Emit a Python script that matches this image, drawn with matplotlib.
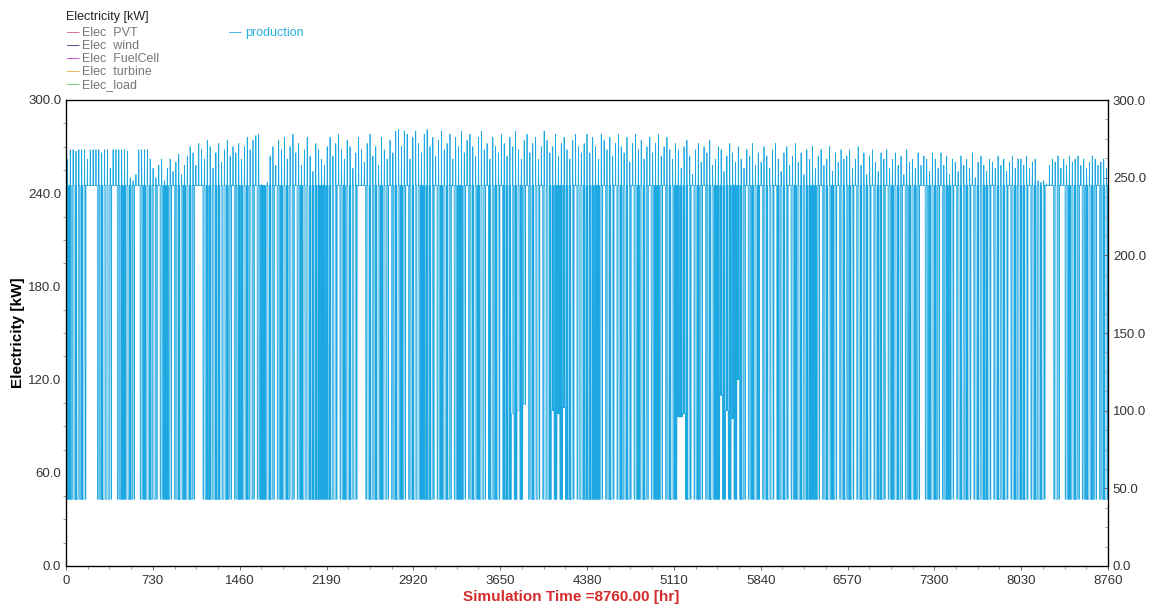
import numpy as np
import matplotlib.pyplot as plt
from matplotlib.ticker import MultipleLocator, FormatStrFormatter

plt.rcParams['font.family'] = ['Liberation Sans', 'DejaVu Sans']

jan = [262, 268, 268, 267, 268, 268, 268, 262, 268, 268, 268, 268, 266, 268, 268, 256,
       268, 268, 268, 268, 268, 267, 250, 248, 252, 268, 268, 268, 268, 262, 256]
feb = [250, 258, 262, 248, 256, 262, 254, 260, 265, 252, 258, 264, 270, 266, 258, 272,
       268, 262, 274, 270, 256, 266, 272, 260, 268, 274, 264, 270]
mar = [266, 272, 262, 270, 276, 268, 274, 277, 278, 246, 245, 247, 264, 270, 258, 274,
       268, 276, 262, 270, 278, 266, 272, 258, 268, 276, 264, 254, 272, 268, 262]
apr = [258, 270, 276, 264, 272, 278, 268, 262, 274, 270, 256, 266, 276, 268, 260, 272,
       278, 264, 270, 258, 276, 268, 262, 274, 266, 280, 281, 270, 280, 278]
may = [262, 276, 280, 272, 266, 278, 281, 270, 276, 264, 274, 280, 268, 272, 278, 262,
       276, 270, 280, 266, 274, 278, 270, 264, 276, 280, 268, 272, 262, 276, 270]
jun = [266, 278, 272, 264, 276, 270, 280, 268, 262, 274, 278, 266, 272, 276, 262, 270,
       280, 274, 266, 270, 278, 264, 272, 276, 268, 262, 274, 278, 270, 266]
jul = [272, 278, 266, 276, 270, 262, 278, 274, 268, 276, 264, 272, 278, 270, 266, 276,
       260, 272, 278, 268, 274, 262, 270, 276, 266, 272, 278, 264, 270, 276, 268]
aug = [262, 272, 268, 256, 270, 274, 264, 252, 268, 272, 260, 270, 266, 274, 258, 262,
       270, 268, 254, 264, 272, 266, 260, 270, 262, 256, 268, 264, 272, 258, 266]
sep = [260, 270, 264, 256, 268, 272, 262, 254, 266, 270, 258, 264, 272, 260, 266, 252,
       268, 262, 270, 256, 264, 268, 258, 262, 270, 254, 266, 260, 268, 262]
octo = [264, 268, 256, 262, 270, 258, 266, 252, 264, 268, 260, 254, 266, 262, 268, 256,
        262, 266, 258, 264, 252, 268, 260, 262, 256, 266, 258, 264, 262, 254, 266]
nov = [262, 256, 266, 258, 264, 252, 262, 260, 254, 264, 258, 262, 256, 266, 250, 260,
       264, 258, 254, 262, 260, 256, 264, 258, 262, 254, 260, 264, 256, 262]
dec = [262, 258, 264, 256, 260, 262, 248, 247, 248, 246, 258, 262, 260, 264, 256, 262,
       258, 264, 260, 262, 264, 258, 262, 256, 260, 264, 262, 258, 260, 262, 256]

# kind of day, ten days per group: n = one drop at night, h = stayed up all day,
# c = switched on and off a few times (solid blue bands)
day_kind = ("ccncncnhhh hncnnnhhnc cncnhhncnc nnhnccnhnc ncncnhhhnc cnccnncnhn "
            "ccncnnhncc ncnhncncnn hncnnccccc cccnnhncnc nnhhhncncn cnnhncncnh "
            "ncnnccccnh ncncnhnccn hncncnnhcn cnhcccncnc nhncnnhnnc cccccccnhn "
            "nccccccnhn cnhncncnhn cncnhnccnh ncncccccnh ncnhncnccc cccccccnhn "
            "cnchncnnhc ncnhncncnc cccnhncncn hncncnhncn cnhnccnhnc ncnhncncnh "
            "hncncnhncc nhncncnhnc nccnhncncn hncnccnhnc ncnhhhnnhh ncncnhncnc nhncn").replace(" ", "")

base_level = 245.0   # plateau during running hours
night_level = 43.0   # level when it drops

# days where the drop only went partway down
partial_low = {156: 98, 158: 100, 160: 104, 170: 100, 172: 98, 174: 102,
               214: 96, 215: 96, 216: 98, 229: 110, 231: 100, 233: 95, 235: 120}

# hour of day profiles: 1 = on the plateau
on_hours = [0, 0, 0, 0, 0, 0, 0, 0, 1, 1, 1, 1, 1, 1, 1, 1, 1, 1, 1, 0, 0, 0, 0, 0]
cycling_hours = [0, 0, 0, 0, 0, 0, 1, 1, 1, 0, 1, 1, 1, 1, 1, 1, 0, 1, 1, 0, 0, 0, 0, 0]
spike_shape = [0, 0, 0, 0, 0, 0, 0, 0, 0, 0, 0, 0.4, 1.0, 0.5, 0, 0, 0, 0, 0, 0, 0, 0, 0, 0]

day_peak = jan + feb + mar + apr + may + jun + jul + aug + sep + octo + nov + dec

production = []
for d, peak in enumerate(day_peak):
    kind = day_kind[d]
    low = partial_low.get(d, night_level)
    profile = cycling_hours if kind == 'c' else on_hours
    for h in range(24):
        if kind == 'h' or profile[h] or spike_shape[h] > 0:
            production.append(base_level + (peak - base_level) * spike_shape[h])
        else:
            production.append(low)
production[0] = 0.0
production.append(base_level)
hours = np.arange(len(production))

fig = plt.figure(figsize=(11.52, 6.08), dpi=100)
ax = fig.add_axes([66 / 1152, 1 - 566 / 608, 1042 / 1152, 466 / 608])
ax.plot(hours, production, color='#1EA8E2', linewidth=0.55)

ax.set_xlim(0, 8760)
ax.set_ylim(0, 300)
ax.xaxis.set_major_locator(MultipleLocator(730))
ax.xaxis.set_minor_locator(MultipleLocator(182.5))
ax.yaxis.set_major_locator(MultipleLocator(60))
ax.yaxis.set_minor_locator(MultipleLocator(15))
ax.yaxis.set_major_formatter(FormatStrFormatter('%.1f'))
ax.tick_params(labelsize=9.5, labelcolor='#333333', length=3, width=0.6, color='#555555')
ax.tick_params(which='minor', length=2, width=0.5, color='#777777')
ax.tick_params(axis='y', direction='in')
for s in ax.spines.values():
    s.set_linewidth(0.9)

ax2 = ax.twinx()
ax2.set_ylim(0, 300)
ax2.yaxis.set_major_locator(MultipleLocator(50))
ax2.yaxis.set_minor_locator(MultipleLocator(12.5))
ax2.yaxis.set_major_formatter(FormatStrFormatter('%.1f'))
ax2.tick_params(labelsize=9.5, labelcolor='#333333', length=3, width=0.6,
                color='#555555', direction='in')
ax2.tick_params(which='minor', length=2, width=0.5, color='#777777', direction='in')

fig.text(18 / 1152, 1 - 333 / 608, 'Electricity [kW]', rotation=90, ha='center',
         va='center', fontsize=11, fontweight='bold')
fig.text(571 / 1152, 1 - 597 / 608, 'Simulation Time =8760.00 [hr]', ha='center',
         va='center', fontsize=11, fontweight='bold', color='#D42A2A')

# legend block at the top, drawn as text like the simulation plotter does
fig.text(66 / 1152, 1 - 17 / 608, 'Electricity [kW]', fontsize=9, va='center', color='#222222')
names = ['Elec  PVT', 'Elec  wind', 'Elec  FuelCell', 'Elec  turbine', 'Elec_load']
colors = ['#D9607A', '#2E3A6E', '#C040C0', '#E8B040', '#5CC060']
for i, (name, c) in enumerate(zip(names, colors)):
    y = 1 - (33 + i * 13) / 608
    fig.text(67 / 1152, y, '\u2014', color=c, fontsize=9, va='center')
    fig.text(82 / 1152, y, name, color='#777777', fontsize=9, va='center')
fig.text(229 / 1152, 1 - 33 / 608, '\u2014', color='#29B0E0', fontsize=9, va='center')
fig.text(245 / 1152, 1 - 33 / 608, 'production', color='#29B0E0', fontsize=9, va='center')

fig.savefig('out.png', dpi=100)
